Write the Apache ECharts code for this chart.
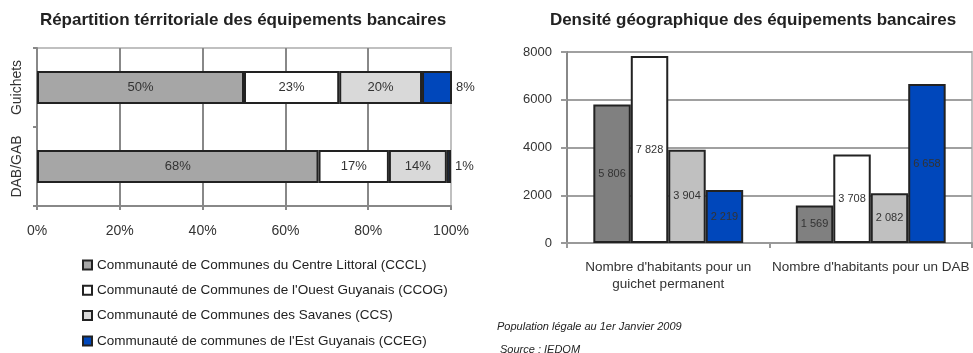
<!DOCTYPE html>
<html>
<head>
<meta charset="utf-8">
<script src="https://cdn.jsdelivr.net/npm/echarts@6/dist/echarts.min.js"></script>
<style>
  html, body { margin: 0; padding: 0; background: #fff; }
  #chart { width: 973px; height: 353px; }
</style>
</head>
<body>
<div id="chart"></div>
<script>
// Communautés de communes (series names, shared by both charts)
const communityNames = [
  'Communauté de Communes du Centre Littoral (CCCL)',
  "Communauté de Communes de l'Ouest Guyanais (CCOG)",
  'Communauté de Communes des Savanes (CCS)',
  "Communauté de communes de l'Est Guyanais (CCEG)"
];

// Left chart: territorial share of banking equipment (%)
const shareCategories = ['Guichets', 'DAB/GAB'];
const shareCCCL = [50, 68];
const shareCCOG = [23, 17];
const shareCCS = [20, 14];
const shareCCEG = [8, 1];

// Right chart: inhabitants per equipment
const densityCategories = ["Nombre d'habitants pour un\nguichet permanent", "Nombre d'habitants pour un DAB"];
const densityCCCL = [5806, 1569];
const densityCCOG = [7828, 3708];
const densityCCS = [3904, 2082];
const densityCCEG = [2219, 6658];

const FONT = 'Liberation Sans';
const TEXT = '#333';
const BORDER = '#222';

const shareColors = ['#a6a6a6', '#ffffff', '#d9d9d9', '#0047bb'];
const densityColors = ['#808080', '#ffffff', '#c0c0c0', '#0047bb'];

const fmtThousands = v => String(v).replace(/\B(?=(\d{3})+(?!\d))/g, ' ');

const shareSeries = [shareCCCL, shareCCOG, shareCCS, shareCCEG].map((data, i) => ({
  name: communityNames[i],
  type: 'bar',
  xAxisIndex: 0,
  yAxisIndex: 0,
  stack: 'share',
  barWidth: 33,
  data: data,
  itemStyle: { color: shareColors[i], borderColor: BORDER, borderWidth: 2 },
  label: {
    show: true,
    position: i === 3 ? 'right' : 'inside',
    distance: 4,
    formatter: p => p.value + '%',
    color: TEXT,
    fontFamily: FONT,
    fontSize: 13
  }
}));

const densitySeries = [densityCCCL, densityCCOG, densityCCS, densityCCEG].map((data, i) => ({
  name: communityNames[i],
  type: 'bar',
  xAxisIndex: 1,
  yAxisIndex: 1,
  barGap: '0%',
  barCategoryGap: '26%',
  data: data,
  itemStyle: { color: densityColors[i], borderColor: BORDER, borderWidth: 2 },
  label: {
    show: true,
    position: 'inside',
    formatter: p => fmtThousands(p.value),
    color: TEXT,
    fontFamily: FONT,
    fontSize: 11
  }
}));

const chart = echarts.init(document.getElementById('chart'), null, { renderer: 'canvas' });

chart.setOption({
  animation: false,
  backgroundColor: '#fff',
  textStyle: { fontFamily: FONT },
  title: [
    {
      text: 'Répartition térritoriale des équipements bancaires',
      left: 238, top: 7, textAlign: 'center',
      textStyle: { fontSize: 17, fontWeight: 'bold', color: '#222', fontFamily: FONT }
    },
    {
      text: 'Densité géographique des équipements bancaires',
      left: 748, top: 7, textAlign: 'center',
      textStyle: { fontSize: 17, fontWeight: 'bold', color: '#222', fontFamily: FONT }
    }
  ],
  legend: {
    orient: 'vertical',
    left: 82,
    top: 258,
    height: 100,
    padding: 0,
    itemWidth: 9,
    itemHeight: 9,
    itemGap: 11.3,
    selectedMode: false,
    icon: 'rect',
    textStyle: { fontSize: 13.5, color: '#222', fontFamily: FONT, lineHeight: 14 },
    data: communityNames.map((n, i) => ({
      name: n,
      itemStyle: { color: shareColors[i], borderColor: BORDER, borderWidth: 2 }
    }))
  },
  graphic: [
    {
      type: 'text', left: 497, top: 321,
      style: { text: 'Population légale au 1er Janvier 2009', fontSize: 11, fontStyle: 'italic', fill: '#222', fontFamily: FONT }
    },
    {
      type: 'text', left: 500, top: 344,
      style: { text: 'Source : IEDOM', fontSize: 11, fontStyle: 'italic', fill: '#222', fontFamily: FONT }
    }
  ],
  grid: [
    { left: 37, top: 48, width: 414, height: 158, show: true, borderColor: '#c0c0c0', borderWidth: 2, backgroundColor: 'transparent' },
    { left: 567, top: 52, width: 405, height: 191, show: true, borderColor: '#c0c0c0', borderWidth: 2, backgroundColor: 'transparent' }
  ],
  xAxis: [
    {
      type: 'value', gridIndex: 0, min: 0, max: 100, interval: 20,
      axisLine: { show: true, lineStyle: { color: '#888', width: 2 } },
      axisTick: { show: true, length: 4, lineStyle: { color: '#888', width: 2 } },
      splitLine: { show: true, lineStyle: { color: ['#888', '#888', '#888', '#888', '#888', '#c0c0c0'], width: 2 } },
      axisLabel: { formatter: '{value}%', color: TEXT, fontSize: 14, margin: 18, fontFamily: FONT }
    },
    {
      type: 'category', gridIndex: 1, data: densityCategories,
      axisLine: { show: true, lineStyle: { color: '#999', width: 2 } },
      axisTick: { show: true, length: 5, lineStyle: { color: '#999', width: 2 } },
      axisLabel: { color: TEXT, fontSize: 13.5, lineHeight: 17, margin: 16, fontFamily: FONT, interval: 0 }
    }
  ],
  yAxis: [
    {
      type: 'category', gridIndex: 0, data: shareCategories, inverse: true,
      axisLine: { show: true, lineStyle: { color: '#888', width: 2 } },
      axisTick: { show: true, length: 4, lineStyle: { color: '#888', width: 2 } },
      axisLabel: { rotate: 90, color: TEXT, fontSize: 14, margin: 13, fontFamily: FONT, interval: 0, hideOverlap: false }
    },
    {
      type: 'value', gridIndex: 1, min: 0, max: 8000, interval: 2000,
      axisLine: { show: true, lineStyle: { color: '#888', width: 2 } },
      axisTick: { show: true, length: 6, lineStyle: { color: '#999', width: 2 } },
      splitLine: { show: true, lineStyle: { color: '#a0a0a0', width: 2 } },
      axisLabel: { color: TEXT, fontSize: 13, margin: 15, fontFamily: FONT, formatter: v => String(v) }
    }
  ],
  series: shareSeries.concat(densitySeries)
});
</script>
</body>
</html>
